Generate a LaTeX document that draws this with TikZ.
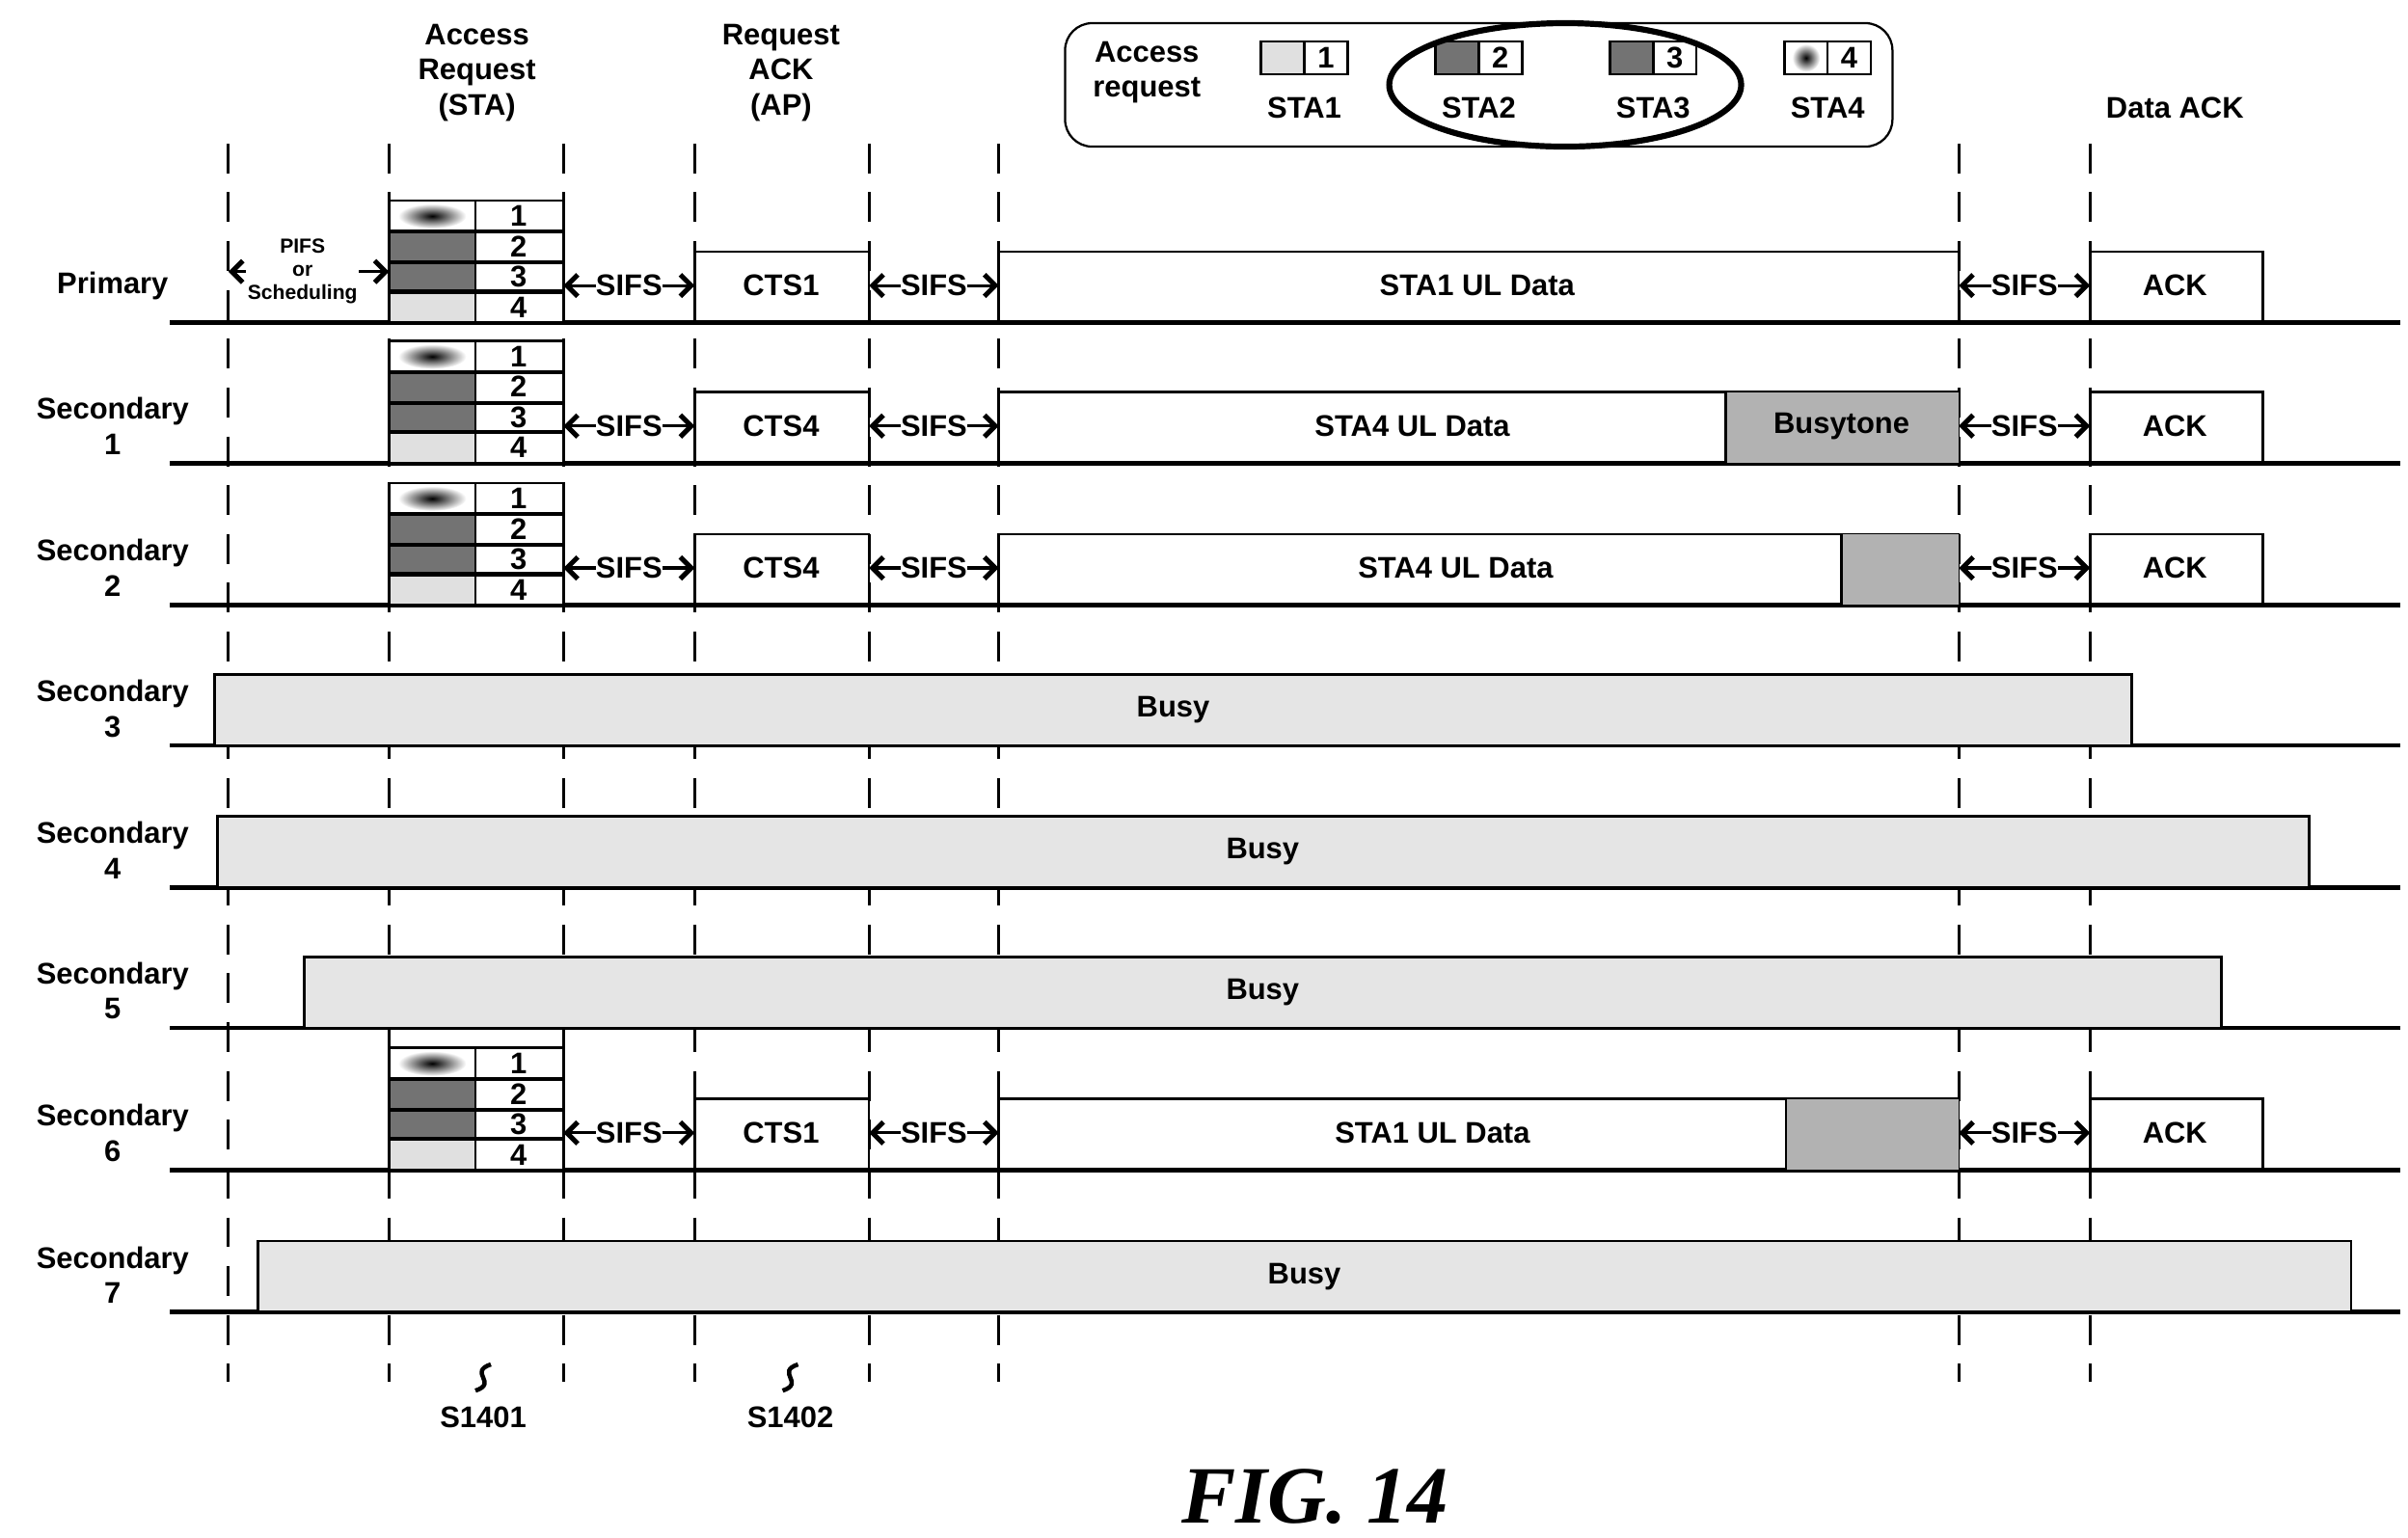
\documentclass[tikz,border=0pt]{standalone}
\usepackage{fontspec}
\setmainfont{Liberation Sans}
\newfontfamily\figfont{Liberation Serif}
\usetikzlibrary{arrows.meta}
\begin{document}
\begin{tikzpicture}[x=0.02cm, y=-0.02cm,
  every node/.style={font=\fontsize{11}{13}\selectfont\bfseries, inner sep=1pt, align=center},
  base/.style={line width=1.7pt},
  frame/.style={draw, line width=0.9pt},
  tick/.style={line width=1pt, dash pattern=on 11pt off 7pt},
  sifs/.style={{Straight Barb[length=4pt,width=8pt,line width=1.8pt]}-{Straight Barb[length=4pt,width=8pt,line width=1.8pt]}, line width=1.1pt},
  light/.style={fill=black!12},
  dark/.style={fill=black!55},
  blank/.style={},
  busy/.style={frame, fill=black!10},
  small/.style={font=\fontsize{7.5}{8.5}\selectfont\bfseries},
]
\useasboundingbox (0,0) rectangle (1560,996);

% ---------------- time marks ----------------
\foreach \x in {148, 252, 365, 450, 563, 647, 1269, 1354}
  \draw[tick] (\x,93) -- (\x,895);

% ---------------- headers ----------------
\node (hreq) at (309,47) {Access\\Request\\(STA)};
\node (hack) at (506,47) {Request\\ACK\\(AP)};
\node (hdack) at (1409,70) {Data ACK};

% ---------------- legend ----------------
\draw[line width=0.8pt, rounded corners=10pt, fill=white] (690,15) rectangle (1226,95);
\node (lgtxt) at (743,47) {Access\\request};
\foreach \cx/\n/\sty in {845/1/light, 958/2/dark, 1071/3/dark, 1184/4/blank} {
  \path[\sty] (\cx-28,27) rectangle (\cx,48);
  \draw[line width=0.9pt] (\cx-28,27) rectangle (\cx+28,48) (\cx,27) -- (\cx,48);
  \node (lg\n) at (\cx+14,37.5) {\n};
  \node (lgsta\n) at (\cx,70) {STA\n};
}
\shade[inner color=black, outer color=white] (1170,37.5) ellipse (9 and 9);
\draw[line width=0.9pt] (1156,27) rectangle (1184,48);
\draw[line width=2.2pt] (1014,55) ellipse (114 and 40);

% ---------------- rows ----------------
\foreach \lbl/\b in {Primary/209, Secondary\\1/300, Secondary\\2/392, Secondary\\3/483,
                     Secondary\\4/575, Secondary\\5/666, Secondary\\6/758, Secondary\\7/850} {
  \draw[base] (110,\b) -- (1555,\b);
  \node at (73,\b-24) {\lbl};
}

% access request cells (rows Primary, Sec1, Sec2, Sec6)
\foreach \b in {209, 300, 392, 758} {
  \fill[white] (252,\b-79) rectangle (365,\b);
  \shade[inner color=black, outer color=white] (280,\b-69) ellipse (22 and 8);
  \path[dark] (252,\b-59) rectangle (308,\b-20);
  \path[light] (252,\b-20) rectangle (308,\b);
  \draw[line width=1pt] (252,\b-79) rectangle (365,\b);
  \draw[line width=1.5pt] (252,\b-59) -- (365,\b-59) (252,\b-39) -- (365,\b-39) (252,\b-20) -- (365,\b-20);
  \draw[line width=1pt] (308,\b-79) -- (308,\b);
  \foreach \n in {1,...,4}
    \node at (336,\b-79+\n*19.75-9.9) {\n};
}

% SIFS gaps and CTS / data / ACK frames
\foreach \b/\cts/\dat/\dx/\g in {209/CTS1/STA1 UL Data/957/1269, 300/CTS4/STA4 UL Data/915/1118,
                                 392/CTS4/STA4 UL Data/943/1193, 758/CTS1/STA1 UL Data/928/1157} {
  \draw[frame] (450,\b) rectangle (563,\b-46);
  \node at (506,\b-24) {\cts};
  \draw[frame] (647,\b) rectangle (1269,\b-46);
  \fill[black!30] (\g,\b-46) rectangle (1269,\b);
  \draw[frame] (\g,\b-46) -- (\g,\b);
  \node at (\dx,\b-24) {\dat};
  \draw[frame] (1354,\b) rectangle (1466,\b-46);
  \node at (1409,\b-24) {ACK};
  \foreach \xa/\xb in {365/450, 563/647, 1269/1354}
    \draw[sifs] (\xa,\b-24) -- (\xb,\b-24) node[midway, fill=white, inner sep=0pt] {SIFS};
}
\node at (1193,276) {Busytone};

% PIFS or Scheduling
\draw[sifs] (148,176) -- (252,176);
\node[small, fill=white, inner sep=0.5pt] (pifs) at (196,176) {PIFS\\or\\Scheduling};

% busy channels
\foreach \xa/\xb/\b/\xt in {139/1381/483/760, 141/1496/575/818, 197/1439/666/818, 167/1523/850/845} {
  \draw[busy] (\xa,\b) rectangle (\xb,\b-46);
  \node at (\xt,\b-23) {Busy};
}

% step labels
\foreach \x/\s in {313/S1401, 512/S1402} {
  \draw[line width=1.6pt] (\x+5,884) .. controls (\x-10,889) and (\x+10,896) .. (\x-5,901);
  \node at (\x,918) {\s};
}

\node[font=\figfont\fontsize{30}{32}\selectfont\bfseries\itshape] (fig) at (852,970) {FIG. 14};
\end{tikzpicture}
\end{document}
